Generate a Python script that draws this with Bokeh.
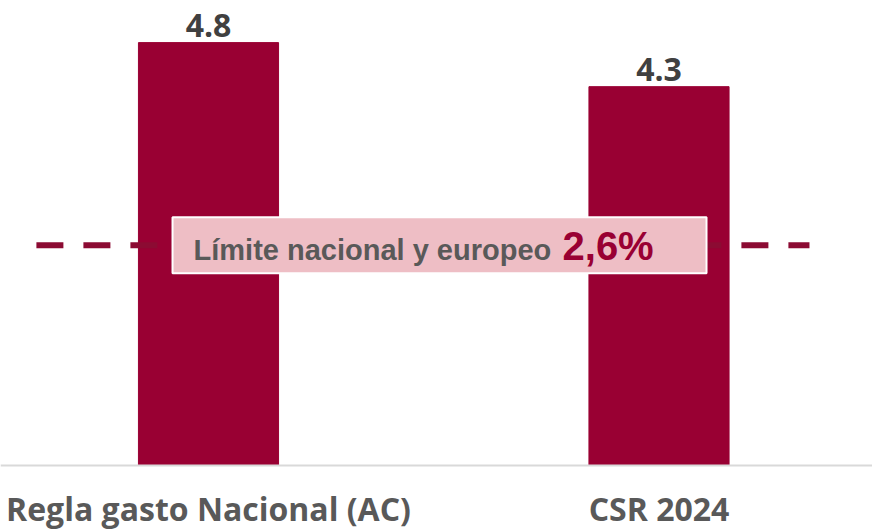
from bokeh.plotting import figure
from bokeh.models import Range1d, ColumnDataSource, Span
from bokeh.core.properties import value
from bokeh.embed import file_html
from bokeh.resources import INLINE

# ---- data ----
categories = ["Regla gasto Nacional (AC)", "CSR 2024"]
values = [4.8, 4.3]
value_labels = ["4.8", "4.3"]
limit_text = "Límite nacional y europeo"
limit_pct = "2,6%"
limit_line_y = 2.5  # position of dashed limit line

xs = list(range(len(categories)))

BAR = "#990033"
LINE = "#8C0B33"

p = figure(width=872, height=531, output_backend="svg", toolbar_location=None,
           x_range=Range1d(-0.4617, 1.4739), y_range=Range1d(-0.749, 5.278),
           min_border_left=0, min_border_right=0, min_border_top=0, min_border_bottom=0)
p.outline_line_color = None
p.xgrid.visible = False
p.ygrid.visible = False
p.xaxis.visible = False
p.yaxis.visible = False

src = ColumnDataSource(dict(x=xs, top=values, lab=value_labels, cat=categories,
                            zero=[0] * len(xs)))
p.vbar(x="x", top="top", width=0.311, bottom=0, source=src,
       fill_color=BAR, line_color=BAR)

# baseline (category axis line)
p.add_layout(Span(location=0, dimension="width", line_color="#d9d9d9", line_width=2))

# category labels
p.text(x="x", y="zero", text="cat", source=src, y_offset=43,
       text_align="center", text_baseline="alphabetic",
       text_font=value("Open Sans"), text_font_style="bold",
       text_font_size="32px", text_color="#595959")

# value labels
p.text(x="x", y="top", text="lab", source=src, y_offset=-17,
       text_align="center", text_baseline="alphabetic",
       text_font=value("Open Sans"), text_font_style="bold",
       text_font_size="32px", text_color="#404040")

# dashed limit line
p.line(x=[-0.382, 1.334], y=[limit_line_y, limit_line_y], line_color=LINE,
       line_width=6, line_dash="27 20")

# label box
box_x = 0.5128
p.rect(x=[box_x], y=[limit_line_y], width=534, height=56,
       width_units="screen", height_units="screen",
       fill_color="#EEBEC5", line_color="white", line_width=2)
p.text(x=[box_x], y=[limit_line_y], text=[limit_text], x_offset=-246, y_offset=5,
       text_align="left", text_baseline="alphabetic",
       text_font=value("Liberation Sans"), text_font_style="bold",
       text_font_size="29px", text_color="#595959")
p.text(x=[box_x], y=[limit_line_y], text=[limit_pct], x_offset=123, y_offset=1,
       text_align="left", text_baseline="alphabetic",
       text_font=value("Liberation Sans"), text_font_style="bold",
       text_font_size="40px", text_color="#990033")

open("out.html", "w").write(file_html(p, INLINE))
